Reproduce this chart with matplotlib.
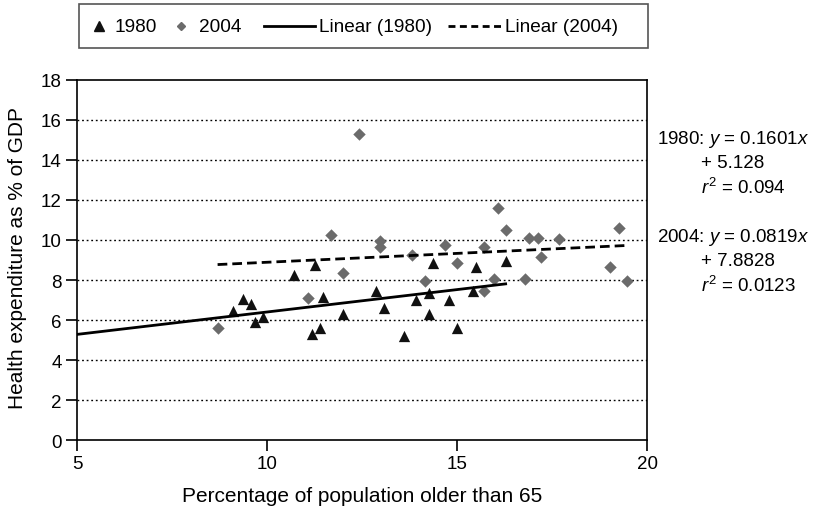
import numpy as np
import matplotlib
matplotlib.use("Agg")
import matplotlib.pyplot as plt
from matplotlib.lines import Line2D

plt.rcParams['font.family'] = ['Liberation Sans', 'DejaVu Sans']
plt.rcParams['mathtext.fontset'] = 'custom'
plt.rcParams['mathtext.rm'] = 'Liberation Sans'
plt.rcParams['mathtext.it'] = 'Liberation Sans:italic'

# 1980 data (share of population 65+, health expenditure % of GDP)
x1980 = [11.27, 10.72, 9.37, 9.57, 9.11, 9.89, 9.68, 11.48, 11.18, 11.39, 12.00,
         12.88, 13.08, 13.61, 13.91, 14.37, 15.51, 16.28, 14.27, 14.79, 15.41,
         14.27, 15.00]
y1980 = [8.77, 8.25, 7.07, 6.79, 6.47, 6.17, 5.90, 7.17, 5.30, 5.60, 6.30,
         7.47, 6.58, 5.22, 7.00, 8.83, 8.63, 8.95, 7.37, 6.98, 7.47,
         6.28, 5.62]

# 2004 data
x2004 = [12.42, 11.69, 12.97, 12.97, 13.81, 12.00, 11.07, 8.70, 16.07, 16.28,
         16.90, 17.12, 17.68, 19.27, 14.69, 15.72, 15.00, 17.21, 19.02, 19.48,
         14.17, 15.98, 16.80, 15.72]
y2004 = [15.32, 10.23, 9.95, 9.64, 9.27, 8.37, 7.09, 5.62, 11.60, 10.52,
         10.12, 10.12, 10.03, 10.62, 9.73, 9.65, 8.87, 9.15, 8.67, 7.97,
         7.97, 8.07, 8.07, 7.47]

# trendlines as drawn in the picture (slope, intercept)
trend_1980 = (0.224, 4.16)
trend_2004 = (0.0887, 8.00)

legend_labels = ['1980', '2004', 'Linear (1980)', 'Linear (2004)']
eq_1980 = ['1980: $y$ = 0.1601$x$', '+ 5.128', '$r^2$ = 0.094']
eq_2004 = ['2004: $y$ = 0.0819$x$', '+ 7.8828', '$r^2$ = 0.0123']

W, H = 825, 510
fig = plt.figure(figsize=(W / 100, H / 100), dpi=100)
ax = fig.add_axes([77 / W, 1 - 441 / H, (647 - 77) / W, (441 - 81) / H])

DASH = (0, (3.5, 1.8))
ax.scatter(x2004, y2004, marker='D', s=40, color='#6b6b6b', zorder=3, linewidths=0)
ax.scatter(x1980, y1980, marker='^', s=66, color='#111111', zorder=4, linewidths=0)

xs1 = np.array([5, max(x1980)])
xs2 = np.array([min(x2004), max(x2004)])
ax.plot(xs1, np.polyval(trend_1980, xs1), color='black', lw=2, zorder=5)
ax.plot(xs2, np.polyval(trend_2004, xs2), color='black', lw=2, ls=DASH, zorder=5)

ax.set_xlim(5, 20)
ax.set_ylim(0, 18)
ax.set_xticks([5, 10, 15, 20])
ax.set_yticks(range(0, 19, 2))
for yv in range(2, 18, 2):
    ax.axhline(yv, color='black', lw=1.0, ls=(0, (1.3, 2.0)), zorder=1)
for s in ax.spines.values():
    s.set_linewidth(1.2)
    s.set_color('black')
ax.tick_params(direction='out', length=8, width=1.2, labelsize=13.5, pad=3, colors='black')

fig.text(362 / W, 1 - 497 / H, 'Percentage of population older than 65',
         ha='center', va='center', fontsize=15)
fig.text(18 / W, 1 - 258 / H, 'Health expenditure as % of GDP', rotation=90,
         ha='center', va='center', fontsize=15)

# equation annotations
for i, t in enumerate(eq_1980):
    fig.text((657 if i == 0 else 701) / W, 1 - (140 + 24 * i) / H, t,
             ha='left', va='center', fontsize=13.5)
for i, t in enumerate(eq_2004):
    fig.text((657 if i == 0 else 701) / W, 1 - (238 + 24 * i) / H, t,
             ha='left', va='center', fontsize=13.5)

# legend drawn manually in figure pixel coordinates
fig.patches.append(plt.Rectangle((79 / W, 1 - 49 / H), (648 - 79) / W, 44 / H,
                                 transform=fig.transFigure, fill=False,
                                 edgecolor='#555555', lw=1.2))
ly = 1 - 27 / H
fig.add_artist(Line2D([99 / W], [ly], marker='^', color='#111111', ls='none',
                      markersize=6.5, transform=fig.transFigure))
fig.add_artist(Line2D([181 / W], [ly], marker='D', color='#6b6b6b', ls='none',
                      markersize=4.5, transform=fig.transFigure))
fig.add_artist(Line2D([264 / W, 315 / W], [ly, ly], color='black', lw=2,
                      transform=fig.transFigure))
fig.add_artist(Line2D([448 / W, 501 / W], [ly, ly], color='black', lw=2,
                      ls=(0, (2.5, 1.6)), transform=fig.transFigure))
for xpos, lab in zip([114, 199, 319, 505], legend_labels):
    fig.text(xpos / W, ly, lab, ha='left', va='center', fontsize=13.7)

fig.savefig('out.png', dpi=100)
